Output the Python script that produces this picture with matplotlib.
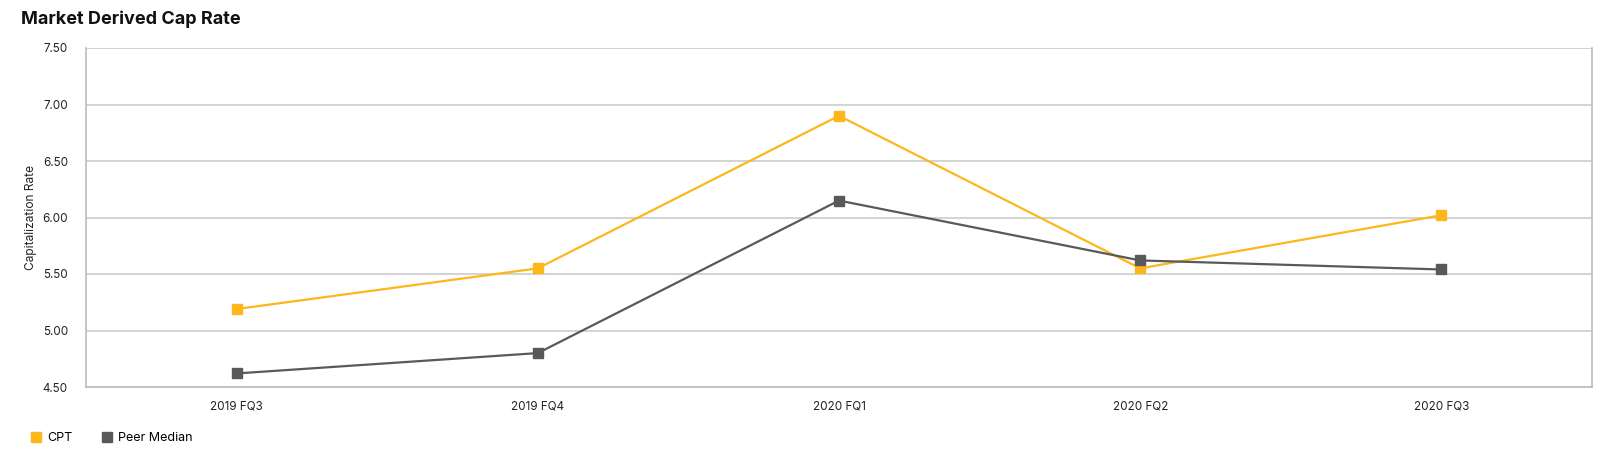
import matplotlib
matplotlib.use("Agg")
import matplotlib.pyplot as plt
from matplotlib.lines import Line2D

plt.rcParams["font.family"] = ["Inter", "DejaVu Sans"]

quarters = ["2019 FQ3", "2019 FQ4", "2020 FQ1", "2020 FQ2", "2020 FQ3"]
cpt = [5.19, 5.55, 6.90, 5.55, 6.02]
peer_median = [4.62, 4.80, 6.15, 5.62, 5.54]
yticks = [4.50, 5.00, 5.50, 6.00, 6.50, 7.00, 7.50]

orange = "#FDB71A"
grey = "#58595B"

fig = plt.figure(figsize=(16, 4.58), dpi=100)
# plot box: x 86..1592 px, y 48..387 px
ax = fig.add_axes([86 / 1600, 1 - 387 / 458, (1592 - 86) / 1600, (387 - 48) / 458])

x = range(len(quarters))
ax.plot(x, cpt, color=orange, lw=1.6, marker="s", ms=7.2, zorder=3)
ax.plot(x, peer_median, color=grey, lw=1.6, marker="s", ms=7.2, zorder=4)

ax.set_xlim(-0.5, len(quarters) - 0.5)
ax.set_ylim(4.5, 7.5)
ax.set_xticks(list(x))
ax.set_xticklabels(quarters)
ax.set_yticks(yticks)
ax.set_yticklabels([f"{v:.2f}" for v in yticks])
ax.tick_params(axis="both", length=0, labelsize=8.4, colors="#222222")
ax.tick_params(axis="x", pad=10)
ax.tick_params(axis="y", pad=13)
ax.grid(axis="y", color="#CCCCCC", lw=1.2)
ax.set_axisbelow(True)
for side in ["left", "bottom", "right"]:
    ax.spines[side].set_color("#BBBBBB")
    ax.spines[side].set_linewidth(1.2)
ax.spines["top"].set_visible(False)

ax.set_ylabel("Capitalization Rate", fontsize=8.6, color="#222222", labelpad=4)

fig.text(21 / 1600, 1 - 19 / 458, "Market Derived Cap Rate", fontsize=13, fontweight="bold",
         color="#111111", va="center")

handles = [
    Line2D([], [], color=orange, marker="s", ms=7.2, lw=0),
    Line2D([], [], color=grey, marker="s", ms=7.2, lw=0),
]
fig.legend(handles, ["CPT", "Peer Median"], loc="center left",
           bbox_to_anchor=(0.011, 1 - 438 / 458), ncol=2, frameon=False, fontsize=9,
           handletextpad=0.3, columnspacing=2.1, handlelength=1.2)

fig.savefig("out.png", dpi=100)
